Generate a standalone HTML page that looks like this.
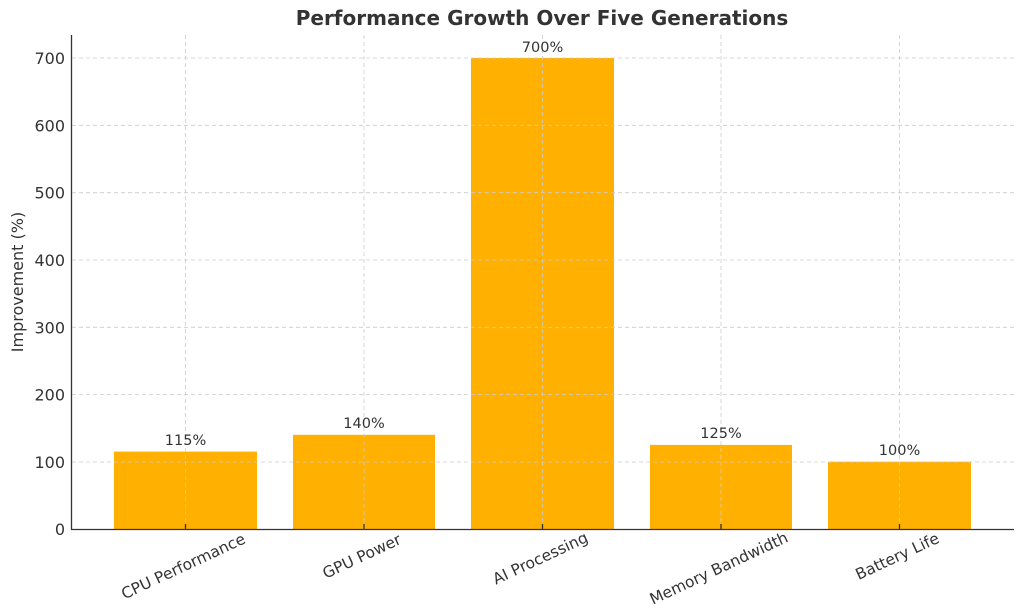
<!DOCTYPE html>
<html><head><meta charset="utf-8"><style>body{margin:0;background:#fff}svg{display:block}</style></head><body>
<svg width="1024" height="611" viewBox="0 0 1024 611" xmlns="http://www.w3.org/2000/svg" font-family="DejaVu Sans, Liberation Sans, sans-serif">
<rect width="1024" height="611" fill="#fff"/>
<text x="542" y="25" text-anchor="middle" font-size="20" font-weight="bold" fill="#333">Performance Growth Over Five Generations</text>
<g fill="#FFB000">
<rect x="114" y="451.6" width="143" height="77.4"/>
<rect x="293" y="434.8" width="142" height="94.2"/>
<rect x="471" y="58" width="143" height="471"/>
<rect x="650" y="444.9" width="142" height="84.1"/>
<rect x="828" y="461.7" width="143" height="67.3"/>
</g>
<g stroke="#ccc" stroke-width="0.8" stroke-dasharray="4,3">
<line x1="72" x2="1014" y1="462" y2="462"/><line x1="72" x2="1014" y1="394.6" y2="394.6"/>
<line x1="72" x2="1014" y1="327.3" y2="327.3"/><line x1="72" x2="1014" y1="260" y2="260"/>
<line x1="72" x2="1014" y1="192.7" y2="192.7"/><line x1="72" x2="1014" y1="125.3" y2="125.3"/>
<line x1="72" x2="1014" y1="58" y2="58"/>
<line x1="185.5" x2="185.5" y1="35" y2="529"/><line x1="364" x2="364" y1="35" y2="529"/>
<line x1="542.5" x2="542.5" y1="35" y2="529"/><line x1="721" x2="721" y1="35" y2="529"/>
<line x1="899.5" x2="899.5" y1="35" y2="529"/>
</g>
<g stroke="#333" stroke-width="1.3">
<line x1="71.5" y1="35" x2="71.5" y2="529.5"/><line x1="71" y1="529.5" x2="1014" y2="529.5"/>
<line x1="185.5" x2="185.5" y1="529" y2="524"/><line x1="364" x2="364" y1="529" y2="524"/>
<line x1="542.5" x2="542.5" y1="529" y2="524"/><line x1="721" x2="721" y1="529" y2="524"/>
<line x1="899.5" x2="899.5" y1="529" y2="524"/>
</g>
<g font-size="16" fill="#333" text-anchor="end">
<text x="65" y="535">0</text><text x="65" y="468">100</text><text x="65" y="400.6">200</text>
<text x="65" y="333.3">300</text><text x="65" y="266">400</text><text x="65" y="198.7">500</text>
<text x="65" y="131.3">600</text><text x="65" y="64">700</text>
</g>
<text transform="translate(23,282) rotate(-90)" text-anchor="middle" font-size="16" fill="#333">Improvement (%)</text>
<g font-size="14.5" fill="#333" text-anchor="middle">
<text x="185.5" y="445">115%</text><text x="364" y="428">140%</text><text x="542.5" y="52">700%</text>
<text x="721" y="438">125%</text><text x="899.5" y="455">100%</text>
</g>
<g font-size="15.5" fill="#333" text-anchor="middle">
<text transform="translate(185.5,571) rotate(-25)">CPU Performance</text>
<text transform="translate(364,561) rotate(-25)">GPU Power</text>
<text transform="translate(542.5,563) rotate(-25)">AI Processing</text>
<text transform="translate(721,573) rotate(-25)">Memory Bandwidth</text>
<text transform="translate(899.5,561) rotate(-25)">Battery Life</text>
</g>
</svg>
</body></html>
